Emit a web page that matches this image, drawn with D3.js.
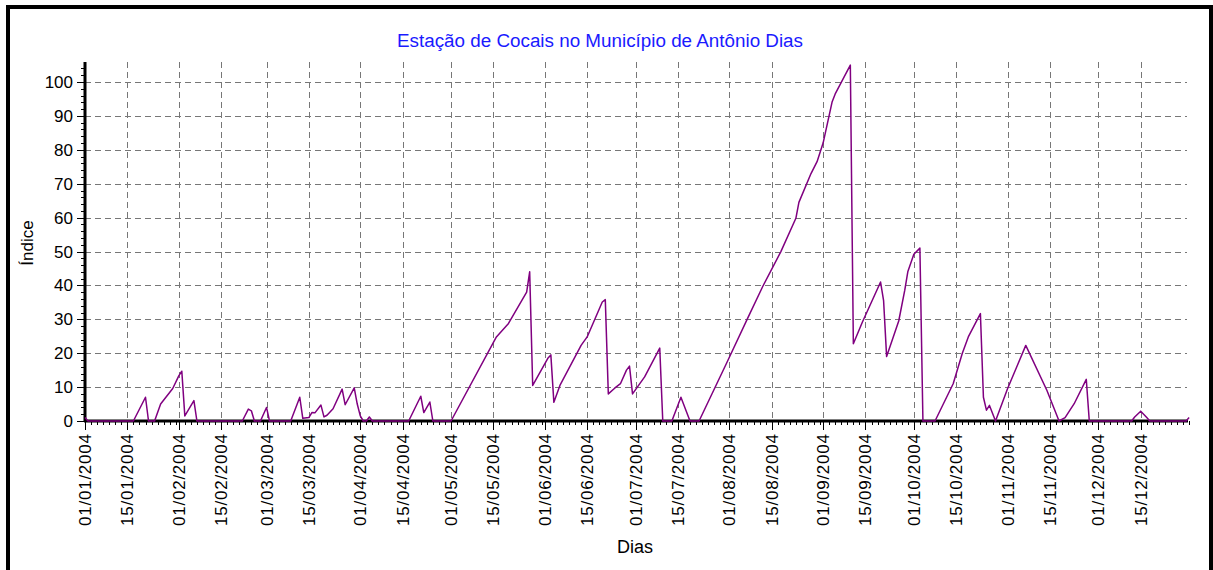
<!DOCTYPE html>
<html><head><meta charset="utf-8">
<script src="https://cdn.jsdelivr.net/npm/d3@7"></script>
<style>
html,body{margin:0;padding:0;background:#fff;}
text{font-family:"Liberation Sans",Arial,sans-serif;}
</style></head>
<body>
<svg id="c" width="1213" height="570"></svg>
<script>
const title = "Estação de Cocais no Município de Antônio Dias";
const yTitle = "Índice";
const xTitle = "Dias";
const yTicks = [0,10,20,30,40,50,60,70,80,90,100];
const dates = ["2004-01-01","2004-01-02","2004-01-17","2004-01-21","2004-01-22","2004-01-24","2004-01-26","2004-01-30","2004-02-01","2004-02-02","2004-02-03","2004-02-06","2004-02-07","2004-02-22","2004-02-24","2004-02-25","2004-02-26","2004-02-28","2004-03-01","2004-03-02","2004-03-09","2004-03-12","2004-03-13","2004-03-15","2004-03-16","2004-03-17","2004-03-19","2004-03-20","2004-03-21","2004-03-23","2004-03-26","2004-03-27","2004-03-30","2004-03-31","2004-04-01","2004-04-02","2004-04-03","2004-04-04","2004-04-05","2004-04-17","2004-04-21","2004-04-22","2004-04-24","2004-04-25","2004-05-01","2004-05-16","2004-05-20","2004-05-26","2004-05-27","2004-05-28","2004-06-02","2004-06-03","2004-06-04","2004-06-06","2004-06-13","2004-06-15","2004-06-20","2004-06-21","2004-06-22","2004-06-24","2004-06-26","2004-06-28","2004-06-29","2004-06-30","2004-07-04","2004-07-09","2004-07-10","2004-07-13","2004-07-16","2004-07-19","2004-07-22","2004-07-31","2004-08-07","2004-08-12","2004-08-18","2004-08-23","2004-08-24","2004-08-28","2004-08-30","2004-09-01","2004-09-04","2004-09-05","2004-09-10","2004-09-11","2004-09-14","2004-09-17","2004-09-20","2004-09-21","2004-09-22","2004-09-26","2004-09-28","2004-09-29","2004-10-01","2004-10-03","2004-10-04","2004-10-08","2004-10-14","2004-10-17","2004-10-19","2004-10-23","2004-10-24","2004-10-25","2004-10-26","2004-10-28","2004-11-01","2004-11-07","2004-11-14","2004-11-18","2004-11-20","2004-11-23","2004-11-27","2004-11-28","2004-12-12","2004-12-13","2004-12-15","2004-12-17","2004-12-18","2004-12-30","2004-12-31"];
const values = [1,0,0,7,0,0,5,9.6,13.3,14.7,1.5,6,0,0,3.5,3,0,0,4,0,0,7,0.8,1,2.5,2.4,4.7,1.2,1.7,3.6,9.4,4.8,9.8,5,1.5,0,0,1.2,0,0,7.3,2.5,5.6,0,0,24.8,28.8,38,44,10.5,18.5,19.5,5.5,10.5,22.3,24.8,35.1,35.8,8,9.6,11,15,16.2,8,13,21.5,0,0,7,0,0,16.9,30.2,39.6,49.9,59.8,64.5,73,76.5,82,94.2,96.5,105,22.8,29.2,35.1,41,35.5,19,29.5,38.6,44,49.2,51,0,0,11,19.9,24.8,31.7,7,3.2,4.6,0,9.6,22.3,9,0,1,5.1,12.3,0,0,1.2,2.9,1,0,0,1];

const parse = d3.timeParse("%Y-%m-%d");
const data = dates.map((d,i)=>({date:parse(d), v:values[i]}));
const svg = d3.select("#c");

// outer border
svg.append("rect").attr("x",8).attr("y",7).attr("width",1203).attr("height",600)
  .attr("fill","none").attr("stroke","#000").attr("stroke-width",4);

const x = d3.scaleTime().domain([parse("2004-01-01"), parse("2004-12-31")]).range([85, 85+365*3.025]);
const y = d3.scaleLinear().domain([0,106]).range([421, 61.7]);
const X0 = 85, X1 = 1187, Y0 = 421, Y1 = 62;

// major ticks: 1st and 15th of month
const major = d3.timeDay.range(parse("2004-01-01"), parse("2005-01-01")).filter(d=>d.getDate()===1||d.getDate()===15);
const minorX = d3.timeDay.range(parse("2004-01-01"), parse("2005-01-01")).filter(d=>d.getDate()%2===1 && d.getDate()!==1 && d.getDate()!==15);

// grid
const grid = svg.append("g").attr("stroke","#777").attr("stroke-width",1).attr("stroke-dasharray","6,4");
yTicks.filter(t=>t>0).forEach(t=>{
  grid.append("line").attr("x1",X0).attr("x2",X1).attr("y1",Math.round(y(t))+0.5).attr("y2",Math.round(y(t))+0.5);
});
major.forEach(d=>{
  const xx = Math.round(x(d))+0.5;
  if (xx < X0+2) return;
  grid.append("line").attr("x1",xx).attr("x2",xx).attr("y1",Y1).attr("y2",Y0);
});

// minor ticks
const tk = svg.append("g").attr("stroke","#000").attr("stroke-width",1);
minorX.forEach(d=>{ const xx=Math.round(x(d))+0.5; tk.append("line").attr("x1",xx).attr("x2",xx).attr("y1",Y0).attr("y2",Y0+4); });
major.forEach(d=>{ const xx=Math.round(x(d))+0.5; tk.append("line").attr("x1",xx).attr("x2",xx).attr("y1",Y0).attr("y2",Y0+9); });
d3.range(0,106,2).forEach(v=>{ const yy=Math.round(y(v))+0.5; tk.append("line").attr("x1",X0-4).attr("x2",X0).attr("y1",yy).attr("y2",yy); });
yTicks.forEach(v=>{ const yy=Math.round(y(v))+0.5; tk.append("line").attr("x1",X0-8).attr("x2",X0).attr("y1",yy).attr("y2",yy); });

// y labels
svg.append("g").selectAll("text").data(yTicks).join("text")
  .attr("x",73).attr("y",d=>y(d)+6).attr("text-anchor","end")
  .attr("font-size",17).attr("fill","#000").text(d=>d);

// x labels
const fmt = d3.timeFormat("%d/%m/%Y");
svg.append("g").selectAll("text").data(major).join("text")
  .attr("transform",d=>`translate(${x(d)+6},434) rotate(-90)`)
  .attr("text-anchor","end").attr("font-size",17).attr("fill","#000")
  .attr("textLength",92).attr("lengthAdjust","spacing")
  .text(d=>fmt(d));

// axes lines
svg.append("line").attr("x1",X0).attr("x2",X0).attr("y1",Y1).attr("y2",Y0+1).attr("stroke","#000").attr("stroke-width",3);
svg.append("line").attr("x1",X0-1).attr("x2",1188).attr("y1",Y0).attr("y2",Y0).attr("stroke","#000").attr("stroke-width",3);

// series
const line = d3.line().x(d=>x(d.date)).y(d=>y(d.v));
svg.append("path").datum(data).attr("d",line).attr("fill","none")
  .attr("stroke","#800080").attr("stroke-width",1.5).attr("stroke-linejoin","round");

// titles
svg.append("text").attr("x",600).attr("y",47).attr("text-anchor","middle")
  .attr("font-size",18).attr("fill","#1a1aff").attr("textLength",406).attr("lengthAdjust","spacingAndGlyphs").text(title);
svg.append("text").attr("transform","translate(33,243) rotate(-90)").attr("text-anchor","middle")
  .attr("font-size",17).attr("fill","#000").text(yTitle);
svg.append("text").attr("x",635).attr("y",553).attr("text-anchor","middle")
  .attr("font-size",18).attr("fill","#000").text(xTitle);
</script>
</body></html>
